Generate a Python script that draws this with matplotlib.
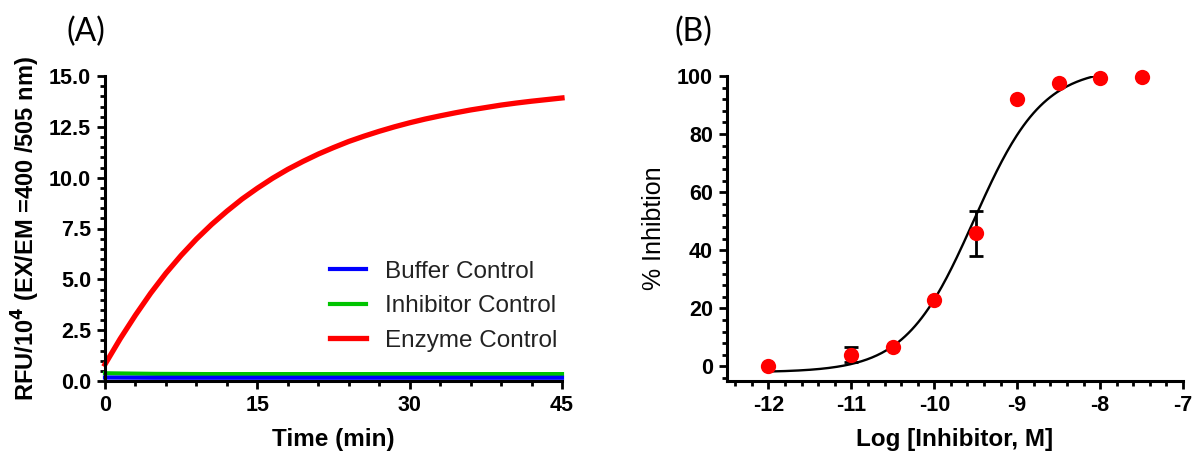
import numpy as np
from matplotlib import pyplot as plt
from matplotlib.ticker import MultipleLocator, FormatStrFormatter

plt.rcParams["axes.unicode_minus"] = False

# panel A: kinetic read-out (RFU/10^4)
time_min = [0, 1.5, 3, 4.5, 6, 7.5, 9, 10.5, 12, 13.5, 15, 16.5, 18, 19.5, 21,
            22.5, 24, 25.5, 27, 28.5, 30, 31.5, 33, 34.5, 36, 37.5, 39, 40.5,
            42, 43.5, 45]
enzyme_ctrl = [0.82, 2.08, 3.24, 4.32, 5.30, 6.18, 6.98, 7.70, 8.35, 8.95,
               9.48, 9.97, 10.41, 10.80, 11.16, 11.48, 11.78, 12.04, 12.28,
               12.50, 12.70, 12.88, 13.04, 13.19, 13.33, 13.45, 13.57, 13.67,
               13.76, 13.84, 13.92]
ctrl_time = [0, 5, 10, 15, 20, 25, 30, 35, 40, 45]
buffer_ctrl = [0.17, 0.16, 0.16, 0.16, 0.16, 0.16, 0.16, 0.16, 0.16, 0.16]
inhibitor_ctrl = [0.38, 0.35, 0.34, 0.34, 0.34, 0.34, 0.34, 0.34, 0.34, 0.34]

# panel B: dose response
log_conc = [-12, -11, -10.5, -10, -9.5, -9, -8.5, -8, -7.5]
inhibition = [0.3, 4.1, 6.7, 22.8, 45.8, 92.0, 97.6, 99.2, 99.5]
inhibition_err = [0, 2.6, 0, 0, 7.8, 0, 0, 0, 0]
# 4PL fit parameters
fit_bottom, fit_top, fit_logic50, fit_hill = -2.0, 103.0, -9.52, 1.05

SANS = ["Liberation Sans", "DejaVu Sans"]
TICK_FS = 15.5

def style_axis(ax):
    for s in ["top", "right"]:
        ax.spines[s].set_visible(False)
    for s in ["left", "bottom"]:
        ax.spines[s].set_linewidth(2.2)
    ax.tick_params(which="major", direction="out", length=6, width=2, pad=4)
    ax.tick_params(which="minor", direction="out", length=3.5, width=2)
    for lab in ax.get_xticklabels() + ax.get_yticklabels():
        lab.set_fontfamily(SANS)
        lab.set_fontweight("bold")
        lab.set_fontsize(TICK_FS)

fig = plt.figure(figsize=(11.94, 4.53), dpi=100)

# ---- (A)
axA = fig.add_axes([105/1194, 1-381/453, 457/1194, 305/453])
axA.plot(ctrl_time, inhibitor_ctrl, color="#00c400", lw=3, label="Inhibitor Control", clip_on=False)
axA.plot(ctrl_time, buffer_ctrl, color="#0000ff", lw=3, label="Buffer Control", clip_on=False)
axA.plot(time_min, enzyme_ctrl, color="#ff0000", lw=3.8, label="Enzyme Control", clip_on=False)
axA.set_xlim(0, 45)
axA.set_ylim(0, 15)
axA.set_xticks([0, 15, 30, 45])
axA.xaxis.set_minor_locator(MultipleLocator(3))
axA.set_yticks(np.arange(0, 15.1, 2.5))
axA.yaxis.set_major_formatter(FormatStrFormatter("%.1f"))
axA.yaxis.set_minor_locator(MultipleLocator(0.5))
style_axis(axA)
axA.set_xlabel("Time (min)", fontsize=17.5, labelpad=9, family=SANS, weight="bold")
axA.set_ylabel("RFU/10$^\\mathbf{4}$ (EX/EM =400 /505 nm)", fontsize=17, labelpad=5,
               family=SANS, weight="bold")
h, l = axA.get_legend_handles_labels()
order = [1, 0, 2]
leg = axA.legend([h[i] for i in order], [l[i] for i in order],
                 loc="upper left", bbox_to_anchor=(0.493, 0.395), frameon=False,
                 handlelength=1.45, handletextpad=0.8, labelspacing=0.52,
                 borderaxespad=0, borderpad=0, prop=dict(family=SANS, size=17.5))
for t in leg.get_texts():
    t.set_color("#222222")
fig.text(86/1194, 1-32/453, "(A)", fontsize=23, family=["Lato", "DejaVu Sans"],
         ha="center", va="center")

# ---- (B)
axB = fig.add_axes([727/1194, 1-381/453, 456/1194, 305/453])
xfit = np.linspace(-12, -8, 200)
yfit = fit_bottom + (fit_top - fit_bottom) / (1 + 10 ** (fit_hill * (fit_logic50 - xfit)))
axB.plot(xfit, yfit, color="black", lw=1.7)
err_x = [x for x, e in zip(log_conc, inhibition_err) if e > 0]
err_y = [y for y, e in zip(inhibition, inhibition_err) if e > 0]
err_e = [e for e in inhibition_err if e > 0]
axB.errorbar(err_x, err_y, yerr=err_e, fmt="none", ecolor="black", elinewidth=2,
             capsize=5, capthick=2, zorder=2)
axB.plot(log_conc, inhibition, "o", color="#ff0000", ms=11, mec="none",
         clip_on=False, zorder=3)
axB.set_xlim(-12.5, -7)
axB.set_ylim(-5, 100)
axB.set_xticks([-12, -11, -10, -9, -8, -7])
axB.xaxis.set_minor_locator(MultipleLocator(0.2))
axB.set_yticks([0, 20, 40, 60, 80, 100])
axB.yaxis.set_minor_locator(MultipleLocator(4))
style_axis(axB)
axB.set_xlabel("Log [Inhibitor, M]", fontsize=17.5, labelpad=9, family=SANS, weight="bold")
axB.set_ylabel("% Inhibtion", fontsize=18, labelpad=8, family=SANS)
fig.text(693/1194, 1-32/453, "(B)", fontsize=23, family=["Lato", "DejaVu Sans"],
         ha="center", va="center")

fig.savefig("out.png", dpi=100)
